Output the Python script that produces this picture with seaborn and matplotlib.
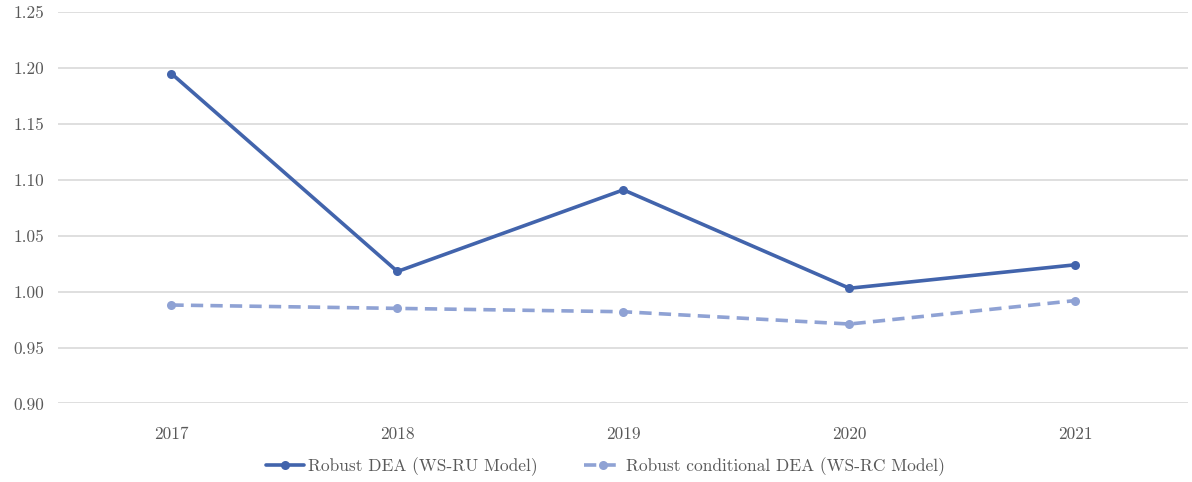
import matplotlib
matplotlib.use("Agg")
import matplotlib.pyplot as plt
from matplotlib.lines import Line2D
import seaborn as sns
import pandas as pd

years = ["2017", "2018", "2019", "2020", "2021"]
robust_dea = [1.195, 1.018, 1.091, 1.003, 1.024]
robust_conditional_dea = [0.988, 0.985, 0.982, 0.971, 0.992]
series_names = ["Robust DEA (WS-RU Model)", "Robust conditional DEA (WS-RC Model)"]
y_ticks = [0.90, 0.95, 1.00, 1.05, 1.10, 1.15, 1.20, 1.25]

sns.set_theme(style="white")
plt.rcParams["font.family"] = ["cmr10", "DejaVu Serif"]
plt.rcParams["axes.formatter.use_mathtext"] = True

df = pd.DataFrame({
    "year": years * 2,
    "value": robust_dea + robust_conditional_dea,
    "series": [series_names[0]] * len(years) + [series_names[1]] * len(years),
})

solid_color = "#4264AC"
dashed_color = "#8FA2D4"
dash_pattern = (3.4, 2)

fig = plt.figure(figsize=(11.92, 4.82), dpi=100)
ax = fig.add_axes([0.049, 0.163, 0.948, 0.812])

palette = {series_names[0]: solid_color, series_names[1]: dashed_color}
sns.lineplot(data=df, x="year", y="value", hue="series", style="series",
             palette=palette, dashes={series_names[0]: "", series_names[1]: dash_pattern},
             markers={series_names[0]: "o", series_names[1]: "o"},
             markersize=6.5, markeredgewidth=0, linewidth=2.6, ax=ax, legend=False,
             sort=False)

ax.set_xlim(-0.5, len(years) - 0.5)
ax.set_ylim(0.90, 1.25)
ax.set_yticks(y_ticks)
ax.set_yticklabels([f"{t:.2f}" for t in y_ticks])
ax.yaxis.grid(True, color="#d9d9d9", linewidth=1.2)
ax.xaxis.grid(False)
ax.set_axisbelow(True)
for s in ax.spines.values():
    s.set_visible(False)
ax.set_xlabel("")
ax.set_ylabel("")
ax.tick_params(axis="both", labelsize=12.5, labelcolor="#595959", length=0)
ax.tick_params(axis="x", pad=17)
ax.tick_params(axis="y", pad=10)

handles = [
    Line2D([], [], color=solid_color, lw=2.6, marker="o", ms=6.5, mew=0),
    Line2D([], [], color=dashed_color, lw=2.6, ls=(0, dash_pattern), marker="o", ms=6.5, mew=0),
]
fig.legend(handles, series_names, loc="center", bbox_to_anchor=(0.508, 0.031),
           ncol=2, frameon=False, fontsize=12.5, handlelength=2.2,
           handletextpad=0.2, columnspacing=2.7, labelcolor="#595959")

fig.savefig("out.png", dpi=100)
